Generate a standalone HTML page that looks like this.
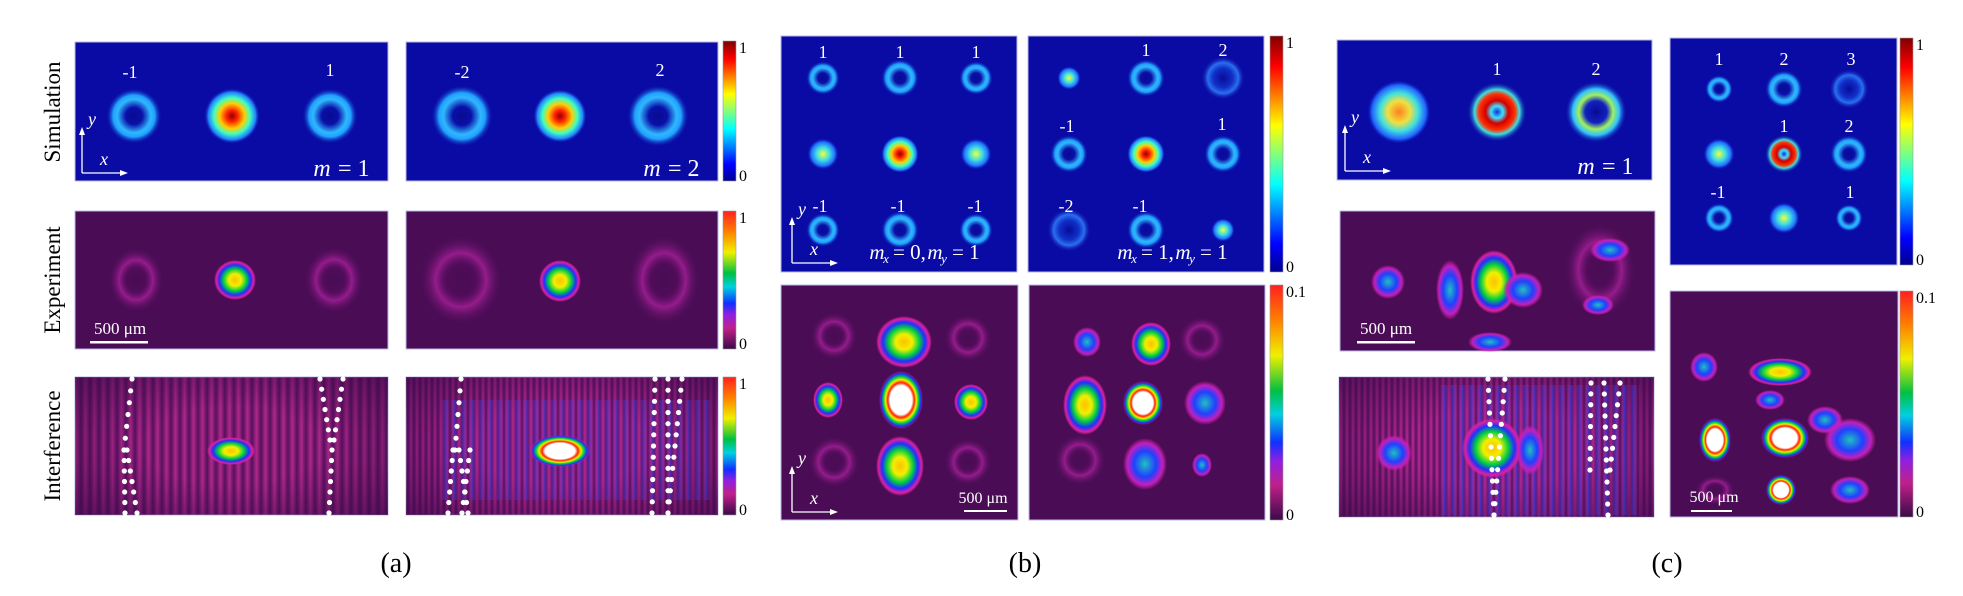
<!DOCTYPE html>
<html><head><meta charset="utf-8"><style>
html,body{margin:0;padding:0;background:#fff}
svg{display:block}
text{font-family:"Liberation Serif",serif}
</style></head><body>
<svg id="s" width="1963" height="596" viewBox="0 0 1963 596" xmlns="http://www.w3.org/2000/svg">
<defs>
<radialGradient id="ring"><stop offset="0" stop-color="#0a0a90"/><stop offset="0.3" stop-color="#0a10a8"/><stop offset="0.6" stop-color="#30b8ff"/><stop offset="0.75" stop-color="#20a0ff"/><stop offset="1" stop-color="#0a0aa4" stop-opacity="0"/></radialGradient>
<radialGradient id="ringW"><stop offset="0" stop-color="#0a0a9a"/><stop offset="0.45" stop-color="#1030c8"/><stop offset="0.7" stop-color="#2a70f0"/><stop offset="1" stop-color="#0a0aa4" stop-opacity="0"/></radialGradient>
<radialGradient id="spot"><stop offset="0" stop-color="#900000"/><stop offset="0.2" stop-color="#ff2000"/><stop offset="0.45" stop-color="#ffd000"/><stop offset="0.65" stop-color="#40ffc0"/><stop offset="0.85" stop-color="#2080ff"/><stop offset="1" stop-color="#0a0aa4" stop-opacity="0"/></radialGradient>
<radialGradient id="spotS"><stop offset="0" stop-color="#f0ff40"/><stop offset="0.4" stop-color="#40e0e0"/><stop offset="0.75" stop-color="#2070ff"/><stop offset="1" stop-color="#0a0aa4" stop-opacity="0"/></radialGradient>
<radialGradient id="spotO"><stop offset="0" stop-color="#ff8020"/><stop offset="0.35" stop-color="#f0e040"/><stop offset="0.6" stop-color="#40e0e0"/><stop offset="0.85" stop-color="#2060ff"/><stop offset="1" stop-color="#0a0aa4" stop-opacity="0"/></radialGradient>
<radialGradient id="ringR"><stop offset="0" stop-color="#1030d0"/><stop offset="0.2" stop-color="#40e0ff"/><stop offset="0.38" stop-color="#d00000"/><stop offset="0.6" stop-color="#ff3000"/><stop offset="0.75" stop-color="#40e0e0"/><stop offset="1" stop-color="#0a0aa4" stop-opacity="0"/></radialGradient>
<radialGradient id="ringG"><stop offset="0" stop-color="#0a0a90"/><stop offset="0.35" stop-color="#1020c0"/><stop offset="0.55" stop-color="#a0f060"/><stop offset="0.75" stop-color="#30c0ff"/><stop offset="1" stop-color="#0a0aa4" stop-opacity="0"/></radialGradient>
<radialGradient id="eSpot"><stop offset="0" stop-color="#ffffff"/><stop offset="0.5" stop-color="#ffffff"/><stop offset="0.6" stop-color="#ff2000"/><stop offset="0.7" stop-color="#f0f000"/><stop offset="0.8" stop-color="#00d040"/><stop offset="0.9" stop-color="#2030ff"/><stop offset="1" stop-color="#e020a0" stop-opacity="0"/></radialGradient>
<radialGradient id="eSpotY"><stop offset="0" stop-color="#ffc000"/><stop offset="0.3" stop-color="#f0f000"/><stop offset="0.55" stop-color="#00d040"/><stop offset="0.75" stop-color="#2030ff"/><stop offset="0.9" stop-color="#e020a0"/><stop offset="1" stop-color="#e020a0" stop-opacity="0"/></radialGradient>
<radialGradient id="eSpotB"><stop offset="0" stop-color="#20c0c0"/><stop offset="0.5" stop-color="#2040ff"/><stop offset="0.8" stop-color="#c020c0"/><stop offset="1" stop-color="#e020a0" stop-opacity="0"/></radialGradient>
<radialGradient id="eRing"><stop offset="0" stop-color="#4a0c55" stop-opacity="0"/><stop offset="0.35" stop-color="#5a0c60" stop-opacity="0.4"/><stop offset="0.6" stop-color="#a8209a" stop-opacity="0.8"/><stop offset="1" stop-color="#4a0c55" stop-opacity="0"/></radialGradient>
<radialGradient id="fade" cx="0.5" cy="0.5" r="0.7"><stop offset="0.4" stop-color="#3a0848" stop-opacity="0"/><stop offset="1" stop-color="#3a0848" stop-opacity="0.7"/></radialGradient>
<linearGradient id="jet" x1="0" y1="1" x2="0" y2="0"><stop offset="0" stop-color="#00008f"/><stop offset="0.12" stop-color="#0000ff"/><stop offset="0.37" stop-color="#00ffff"/><stop offset="0.62" stop-color="#ffff00"/><stop offset="0.87" stop-color="#ff0000"/><stop offset="1" stop-color="#800000"/></linearGradient>
<linearGradient id="exc" x1="0" y1="1" x2="0" y2="0"><stop offset="0" stop-color="#3a0a48"/><stop offset="0.15" stop-color="#c0208a"/><stop offset="0.25" stop-color="#9020e0"/><stop offset="0.33" stop-color="#1030ff"/><stop offset="0.45" stop-color="#00d0e0"/><stop offset="0.55" stop-color="#00c040"/><stop offset="0.7" stop-color="#f0f000"/><stop offset="0.85" stop-color="#ff8000"/><stop offset="1" stop-color="#ff2020"/></linearGradient>
<linearGradient id="stripe" x1="0" y1="0" x2="9" y2="0" gradientUnits="userSpaceOnUse" spreadMethod="repeat"><stop offset="0" stop-color="#551060"/><stop offset="0.5" stop-color="#b02888"/><stop offset="1" stop-color="#551060"/></linearGradient>
<linearGradient id="stripeF" x1="0" y1="0" x2="6" y2="0" gradientUnits="userSpaceOnUse" spreadMethod="repeat"><stop offset="0" stop-color="#551060"/><stop offset="0.5" stop-color="#b82890"/><stop offset="1" stop-color="#551060"/></linearGradient>
<linearGradient id="blueS" x1="0" y1="0" x2="9" y2="0" gradientUnits="userSpaceOnUse" spreadMethod="repeat"><stop offset="0" stop-color="#c02890" stop-opacity="0"/><stop offset="0.5" stop-color="#2040f0"/><stop offset="1" stop-color="#c02890" stop-opacity="0"/></linearGradient>
</defs>
<g id="g"></g>
</svg>
<script>
const g=document.getElementById('g');let h='';
const R=(x,y,w,hh,f,st)=>h+=`<rect x="${x}" y="${y}" width="${w}" height="${hh}" fill="${f}" ${st?'stroke="#b8b8e8" stroke-width="1"':''}/>`;
const C=(x,y,r,f,ry)=>h+=`<ellipse cx="${x}" cy="${y}" rx="${r}" ry="${ry||r}" fill="url(#${f})"/>`;
const T=(x,y,t,s,a,st)=>h+=`<text x="${x}" y="${y}" font-size="${s}" text-anchor="${a||'middle'}" fill="${st||'#000'}">${t}</text>`;
const TI=(x,y,t,s,a,col)=>h+=`<text x="${x}" y="${y}" font-size="${s}" font-style="italic" text-anchor="${a||'middle'}" fill="${col||'#fff'}">${t}</text>`;
const axes=(x,y)=>{h+=`<path d="M${x} ${y}V${y-42}M${x} ${y}H${x+42}" stroke="#fff" stroke-width="1.3"/><path d="M${x-3} ${y-38}L${x} ${y-46}L${x+3} ${y-38}Z M${x+38} ${y-3}L${x+46} ${y}L${x+38} ${y+3}Z" fill="#fff"/>`;TI(x+10,y-48,'y',18);TI(x+22,y-8,'x',18);};
const bar=(x,y,hh,f,top)=>{R(x,y,13,hh,`url(#${f})`);h+=`<rect x="${x}" y="${y}" width="13" height="${hh}" fill="none" stroke="#999" stroke-width="0.6"/>`;T(x+16,y+12,top,16,'start');T(x+16,y+hh,'0',16,'start');};
const SB='#0a0aa4',EB='#4a0c55';
// ---- (a)
R(75,42,313,139,SB,1);R(406,42,312,139,SB,1);
C(134,116,28,'ring');C(232,116,28,'spot');C(330,116,28,'ring');
C(462,116,31,'ring');C(560,116,27,'spot');C(658,116,31,'ring');
T(130,78,'-1',18,'middle','#fff');T(330,76,'1',18,'middle','#fff');T(462,78,'-2',18,'middle','#fff');T(660,76,'2',18,'middle','#fff');
axes(82,173);TI(322,176,'m',24,'middle');T(338,176,'= 1',24,'start','#fff');
TI(652,176,'m',24,'middle');T(668,176,'= 2',24,'start','#fff');
bar(723,41,140,'jet','1');
R(75,211,313,138,EB,1);R(406,211,312,138,EB,1);
C(136,280,28,'eRing',33);C(334,280,30,'eRing',34);C(461,280,42,'eRing',45);C(664,280,36,'eRing',45);
C(235,280,21,'eSpotY',20);C(560,281,21,'eSpotY',21);
h+=`<rect x="90" y="341" width="58" height="2.5" fill="#fff"/>`;T(120,334,'500 μm',17,'middle','#fff');
bar(723,211,138,'exc','1');
R(75,377,313,138,'url(#stripe)',1);R(406,377,312,138,'url(#stripeF)',1);
R(75,377,313,138,'url(#fade)');R(406,377,312,138,'url(#fade)');
h+=`<rect x="440" y="400" width="270" height="100" fill="url(#blueS)" opacity="0.5"/>`;
C(231,451,24,'eSpotY',14);C(560,451,30,'eSpot',16);
const dots=(pts)=>{for(const p of pts){const[x1,y1,x2,y2]=p;const n=Math.round(Math.abs(y2-y1)/11);for(let i=0;i<=n;i++)h+=`<circle cx="${x1+(x2-x1)*i/n}" cy="${y1+(y2-y1)*i/n}" r="2.6" fill="#fff"/>`;}};
dots([[132,379,124,450],[124,450,125,513],[127,450,137,513],[320,379,330,440],[343,379,334,440],[332,450,329,513],[461,379,455,450],[453,450,448,513],[459,450,468,513],[470,450,462,513],[655,379,652,513],[668,379,668,513],[682,379,668,513]]);
bar(723,377,138,'exc','1');
T(396,572,'(a)',28);
const RL=(x,y,t)=>h+=`<text x="${x}" y="${y}" font-size="23" text-anchor="middle" transform="rotate(-90 ${x} ${y})">${t}</text>`;
RL(60,112,'Simulation');RL(60,280,'Experiment');RL(60,446,'Interference');
// ---- (b)
R(781,36,236,236,SB,1);R(1028,36,236,236,SB,1);
for(const x of[823,900,976]){C(x,78,x==900?19:17,'ring');C(x,230,x==900?19:17,'ring');C(x,154,x==900?19:16,x==900?'spot':'spotS');}
[[823,'1'],[900,'1'],[976,'1']].forEach(a=>T(a[0],58,a[1],18,'middle','#fff'));
[[820,'-1'],[898,'-1'],[975,'-1']].forEach(a=>T(a[0],212,a[1],18,'middle','#fff'));
C(1069,78,12,'spotS');C(1146,78,19,'ring');C(1223,78,22,'ringW');
C(1069,154,19,'ring');C(1146,154,19,'spot');C(1223,154,19,'ring');
C(1069,230,22,'ringW');C(1146,230,19,'ring');C(1223,230,12,'spotS');
T(1146,56,'1',18,'middle','#fff');T(1223,56,'2',18,'middle','#fff');T(1067,132,'-1',18,'middle','#fff');T(1222,130,'1',18,'middle','#fff');
T(1066,212,'-2',18,'middle','#fff');T(1140,212,'-1',18,'middle','#fff');
axes(792,263);TI(877,259,'m',21);TI(886,263,'x',13);T(893,259,'= 0,',21,'start','#fff');TI(935,259,'m',21);TI(944,263,'y',13);T(952,259,'= 1',21,'start','#fff');
TI(1125,259,'m',21);TI(1134,263,'x',13);T(1141,259,'= 1,',21,'start','#fff');TI(1183,259,'m',21);TI(1192,263,'y',13);T(1200,259,'= 1',21,'start','#fff');
bar(1270,36,236,'jet','1');
R(781,285,237,235,EB,1);R(1029,285,236,235,EB,1);
C(834,336,24,'eRing');C(968,338,24,'eRing');C(834,462,26,'eRing');C(968,462,24,'eRing');
C(904,342,28,'eSpotY',26);C(901,400,22,'eSpot',29);C(900,466,24,'eSpotY',30);
C(828,400,15,'eSpotY',18);C(971,402,17,'eSpotY',18);
C(1087,342,14,'eSpotB',15);C(1151,344,20,'eSpotY',22);C(1202,340,24,'eRing');
C(1085,405,22,'eSpotY',30);C(1143,403,20,'eSpot',22);C(1205,403,21,'eSpotB',22);
C(1145,464,22,'eSpotB',26);C(1202,465,10,'eSpotB',12);C(1080,460,26,'eRing');
axes(792,512);h+=`<rect x="964" y="510" width="43" height="2" fill="#fff"/>`;T(983,503,'500 μm',16,'middle','#fff');
bar(1270,285,235,'exc','0.1');
T(1025,572,'(b)',28);
// ---- (c)
R(1337,40,315,140,SB,1);
C(1399,112,32,'spotO');C(1497,112,30,'ringR');C(1596,112,31,'ringG');
T(1497,75,'1',18,'middle','#fff');T(1596,75,'2',18,'middle','#fff');
axes(1345,171);TI(1586,174,'m',24);T(1602,174,'= 1',24,'start','#fff');
R(1670,38,227,227,SB,1);
C(1719,89,14,'ring');C(1784,89,19,'ring');C(1849,89,20,'ringW');
C(1719,154,16,'spotS');C(1784,154,19,'ringR');C(1849,154,19,'ring');
C(1719,218,15,'ring');C(1784,218,16,'spotS');C(1849,218,14,'ring');
T(1719,65,'1',18,'middle','#fff');T(1784,65,'2',18,'middle','#fff');T(1851,65,'3',18,'middle','#fff');
T(1784,132,'1',18,'middle','#fff');T(1849,132,'2',18,'middle','#fff');T(1718,198,'-1',18,'middle','#fff');T(1850,198,'1',18,'middle','#fff');
bar(1900,38,227,'jet','1');
R(1340,211,315,140,EB,1);
C(1388,282,17,'eSpotB',17);C(1494,282,24,'eSpotY',32);C(1450,290,14,'eSpotB',30);C(1523,290,20,'eSpotB',18);
C(1600,270,36,'eRing',48);C(1610,250,20,'eSpotB',12);C(1598,305,16,'eSpotB',10);C(1490,342,22,'eSpotB',10);
h+=`<rect x="1357" y="341" width="58" height="2.5" fill="#fff"/>`;T(1386,334,'500 μm',17,'middle','#fff');
R(1339,377,315,140,'url(#stripeF)',1);R(1339,377,315,140,'url(#fade)');
h+=`<rect x="1440" y="385" width="200" height="130" fill="url(#blueS)" opacity="0.6"/>`;
C(1394,453,18,'eSpotB',18);C(1492,448,30,'eSpotY',30);C(1530,450,14,'eSpotB',25);
dots([[1488,379,1494,515],[1505,379,1494,515],[1591,383,1590,470],[1604,383,1608,515],[1620,383,1610,470]]);
R(1670,291,228,226,EB,1);
C(1704,367,14,'eSpotB',15);C(1780,372,32,'eSpotY',14);C(1715,440,16,'eSpot',22);C(1785,438,24,'eSpot',20);
C(1770,400,15,'eSpotB',10);C(1825,420,18,'eSpotB',14);C(1850,440,26,'eSpotB',22);C(1781,490,15,'eSpot',15);C(1850,490,20,'eSpotB',14);C(1715,490,20,'eRing',15);
h+=`<rect x="1691" y="510" width="41" height="2" fill="#fff"/>`;T(1714,502,'500 μm',16,'middle','#fff');
bar(1900,291,226,'exc','0.1');
T(1667,572,'(c)',28);
g.innerHTML=h;
</script>
</body></html>
